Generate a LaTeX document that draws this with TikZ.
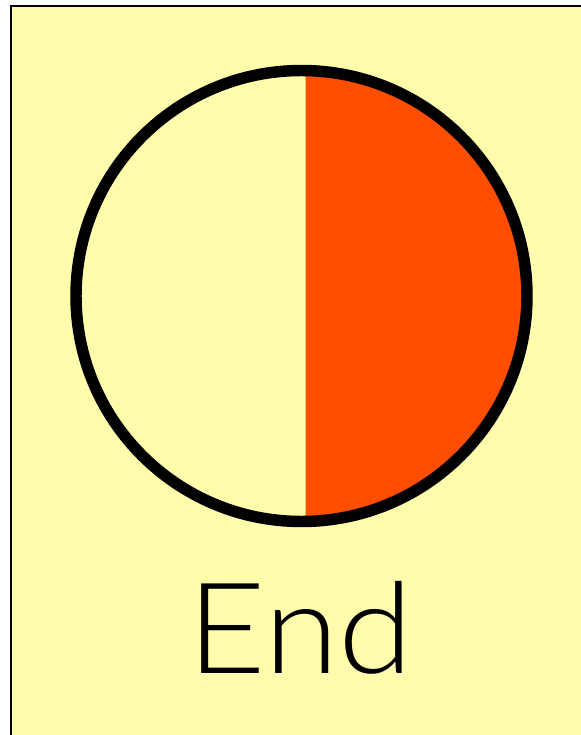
\documentclass[tikz,border=0pt]{standalone}
\usepackage{fontspec}
\setmainfont{Lato Light}
\usepackage{tikz}
\definecolor{cardyellow}{RGB}{255,252,172}
\definecolor{endorange}{RGB}{255,78,0}

\begin{document}
\begin{tikzpicture}[x=0.75pt, y=-0.75pt,
    card/.style={draw, line width=1.5pt, fill=cardyellow},
    ring/.style={draw, circle, line width=8.6pt, minimum size=338.25pt, inner sep=0pt}]
  \useasboundingbox (0,0) rectangle (581,735);
  \clip (0,0) rectangle (581,735);
  \draw[card] (11,6) rectangle (620,780);
  % right half filled
  \begin{scope}
    \clip (305.5,0) rectangle (600,735);
    \fill[endorange] (301.5,296) circle (225.5);
  \end{scope}
  \node[ring] (disc) at (301.5,296) {};
  \node[anchor=base, xscale=1.07, inner sep=0pt, font=\fontsize{95}{100}\selectfont] (label) at (300.5,673) {End};
\end{tikzpicture}
\end{document}
